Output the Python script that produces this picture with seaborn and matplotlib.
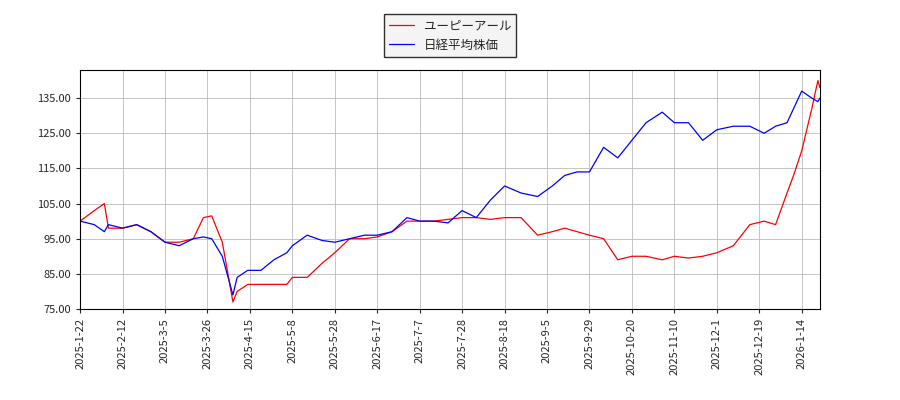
import numpy as np
import pandas as pd
import matplotlib
matplotlib.use("Agg")
import matplotlib.pyplot as plt
import seaborn as sns

dates = ["2025-01-22", "2025-01-29", "2025-02-03", "2025-02-05", "2025-02-12", "2025-02-19",
         "2025-02-26", "2025-03-05", "2025-03-12", "2025-03-19", "2025-03-24", "2025-03-28",
         "2025-04-02", "2025-04-07", "2025-04-09", "2025-04-14", "2025-04-21", "2025-04-28",
         "2025-05-05", "2025-05-08", "2025-05-15", "2025-05-22", "2025-05-28", "2025-06-04",
         "2025-06-11", "2025-06-17", "2025-06-24", "2025-07-01", "2025-07-07", "2025-07-14",
         "2025-07-21", "2025-07-28", "2025-08-04", "2025-08-11", "2025-08-18", "2025-08-25",
         "2025-09-01", "2025-09-08", "2025-09-15", "2025-09-22", "2025-09-29", "2025-10-06",
         "2025-10-13", "2025-10-20", "2025-10-27", "2025-11-04", "2025-11-10", "2025-11-17",
         "2025-11-24", "2025-12-01", "2025-12-08", "2025-12-15", "2025-12-22", "2025-12-29",
         "2026-01-05", "2026-01-09", "2026-01-14", "2026-01-19", "2026-01-22", "2026-01-23"]

upr = [100, 103, 105, 98, 98, 99, 97, 94, 94, 95, 101, 101.5, 94, 77, 80, 82, 82, 82,
       82, 84, 84, 88, 91, 95, 95, 95.5, 97, 100, 100, 100, 100.5, 101, 101, 100.5, 101, 101,
       96, 97, 98, 97, 96, 95, 89, 90, 90, 89, 90, 89.5, 90, 91, 93, 99, 100, 99,
       108, 113, 120, 132, 140, 138]

nikkei = [100, 99, 97, 99, 98, 99, 97, 94, 93, 95, 95.5, 95, 90, 79, 84, 86, 86, 89,
          91, 93, 96, 94.5, 94, 95, 96, 96, 97, 101, 100, 100, 99.5, 103, 101, 106, 110, 108,
          107, 110, 113, 114, 114, 121, 118, 123, 128, 131, 128, 128, 123, 126, 127, 127, 125, 127,
          128, 132, 137, 135, 134, 135]

tick_dates = ["2025-01-22", "2025-02-12", "2025-03-05", "2025-03-26", "2025-04-15", "2025-05-08",
              "2025-05-28", "2025-06-17", "2025-07-07", "2025-07-28", "2025-08-18", "2025-09-05",
              "2025-09-29", "2025-10-20", "2025-11-10", "2025-12-01", "2025-12-19", "2026-01-14"]

# x axis is trading-day based: ticks every 15 sessions
tick_ts = pd.to_datetime(tick_dates)
tick_pos = np.arange(len(tick_ts)) * 15
d = pd.to_datetime(dates)
t_ord = tick_ts.map(pd.Timestamp.toordinal).to_numpy()
d_ord = d.map(pd.Timestamp.toordinal).to_numpy()
xpos = np.interp(d_ord, t_ord, tick_pos)
# extrapolate past the last tick (about 5 sessions per 7 days)
after = d_ord > t_ord[-1]
xpos[after] = tick_pos[-1] + (d_ord[after] - t_ord[-1]) * 5 / 7

df = pd.DataFrame({"x": xpos, "ユーピーアール": upr, "日経平均株価": nikkei})
long = df.melt("x", var_name="series", value_name="value")

sns.set_style("white")
plt.rcParams["font.family"] = ["Noto Sans CJK JP", "DejaVu Sans"]

fig = plt.figure(figsize=(9, 4), dpi=100)
ax = fig.add_axes([0.089, 0.2275, 0.822, 0.5975])
sns.lineplot(data=long, x="x", y="value", hue="series",
             palette={"ユーピーアール": "red", "日経平均株価": "blue"},
             linewidth=0.9, ax=ax)

ax.set_xticks(tick_pos)
ax.set_xticklabels([f"{t.year}-{t.month}-{t.day}" for t in tick_ts], rotation=90, fontsize=8)
ax.set_xlim(0, xpos[-1])
ax.set_ylim(75, 143)
ax.set_yticks(np.arange(75, 140, 10))
ax.yaxis.set_major_formatter(matplotlib.ticker.FormatStrFormatter("%.2f"))
ax.tick_params(axis="y", labelsize=8)
ax.tick_params(direction="out", length=3, left=True, bottom=True)
ax.grid(True, color="#bbbbbb", linewidth=0.6)
for s in ax.spines.values():
    s.set_color("black")
ax.set_xlabel("")
ax.set_ylabel("")
ax.legend(title=None, loc="lower center", bbox_to_anchor=(0.5, 1.03), fontsize=9,
          frameon=True, edgecolor="black", fancybox=False, facecolor="#f2f2f2")
fig.savefig("out.png", dpi=100)
